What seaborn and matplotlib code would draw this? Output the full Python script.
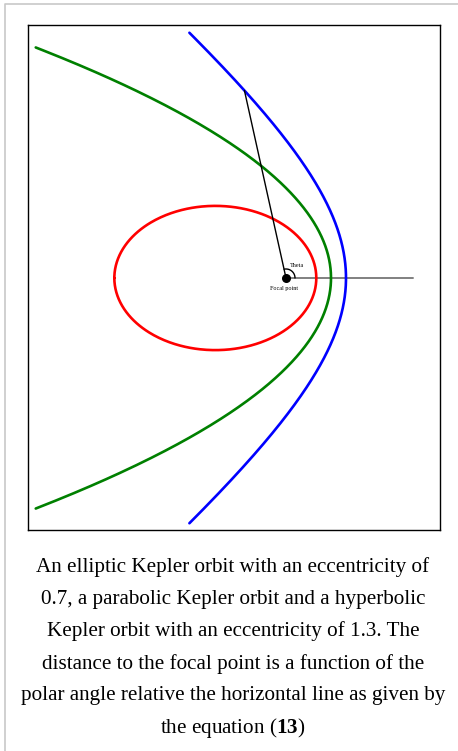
import numpy as np
import pandas as pd
import matplotlib
matplotlib.use("Agg")
import matplotlib.pyplot as plt
import seaborn as sns

# orbit parameters (focus at origin, units roughly in pixels)
orbit_names = ["ellipse", "parabola", "hyperbola"]
eccentricities = [0.7, 1.0, 1.3]
semi_latus = [51.5, 90.0, 138.0]
theta_limits_deg = [180.0, 137.35, 111.5]
orbit_colors = ["red", "green", "blue"]

# radius line drawn to the hyperbola
theta_marker_deg = 102.5

caption = ("An elliptic Kepler orbit with an eccentricity of\n"
           "0.7, a parabolic Kepler orbit and a hyperbolic\n"
           "Kepler orbit with an eccentricity of 1.3. The\n"
           "distance to the focal point is a function of the\n"
           "polar angle relative the horizontal line as given by\n"
           "the equation ($\\mathbf{13}$)")

sns.set_style("white")
plt.rcParams["font.family"] = ["Liberation Serif", "DejaVu Serif"]
plt.rcParams["text.color"] = "black"
plt.rcParams["mathtext.fontset"] = "custom"
plt.rcParams["mathtext.rm"] = "Liberation Serif"
plt.rcParams["mathtext.bf"] = "Liberation Serif:bold"

W, H = 458, 751
fig = plt.figure(figsize=(W / 100, H / 100), dpi=100)

# light frame of the page
frame = fig.add_axes([0, 0, 1, 1])
frame.set_xlim(0, W)
frame.set_ylim(H, 0)
frame.axis("off")
frame.plot([5, 5, W], [H, 4, 4], color="#c8c8c8", lw=1.2)

ax = fig.add_axes([28 / W, (H - 530) / H, 412 / W, 505 / H])

rows = []
for name, e, p, lim in zip(orbit_names, eccentricities, semi_latus, theta_limits_deg):
    th = np.radians(np.linspace(-lim, lim, 600))
    r = p / (1 + e * np.cos(th))
    rows.append(pd.DataFrame({"x": r * np.cos(th), "y": r * np.sin(th), "orbit": name}))
df = pd.concat(rows, ignore_index=True)

sns.lineplot(data=df, x="x", y="y", hue="orbit", palette=orbit_colors,
             hue_order=orbit_names, sort=False, estimator=None, lw=1.9,
             legend=False, ax=ax)

# horizontal reference line
ax.plot([0, 127], [0, 0], color="#808080", lw=1.4, zorder=1)

# radius vector to hyperbola
tm = np.radians(theta_marker_deg)
rm = semi_latus[2] / (1 + eccentricities[2] * np.cos(tm))
ax.plot([0, rm * np.cos(tm)], [0, rm * np.sin(tm)], color="black", lw=1.0)

# angle arc
arc = np.linspace(0, tm, 60)
ax.plot(9 * np.cos(arc), 9 * np.sin(arc), color="black", lw=1.0)
ax.scatter([0], [0], s=30, color="black", zorder=5)
ax.text(4, 10, "Theta", fontsize=4.4, ha="left", va="bottom")
ax.text(-2, -8, "Focal point", fontsize=4.4, ha="center", va="top")

ax.set_xlim(-258, 154)
ax.set_ylim(-252, 253)
ax.set_aspect("equal")
ax.set_xticks([])
ax.set_yticks([])
ax.set_xlabel("")
ax.set_ylabel("")
for s in ax.spines.values():
    s.set_color("black")
    s.set_linewidth(1.0)

for i, line in enumerate(caption.split("\n")):
    frame.text(233, 567 + i * 32.2, line, fontsize=15.2, va="center",
               ha="center", color="black")

fig.savefig("out.png", dpi=100)
